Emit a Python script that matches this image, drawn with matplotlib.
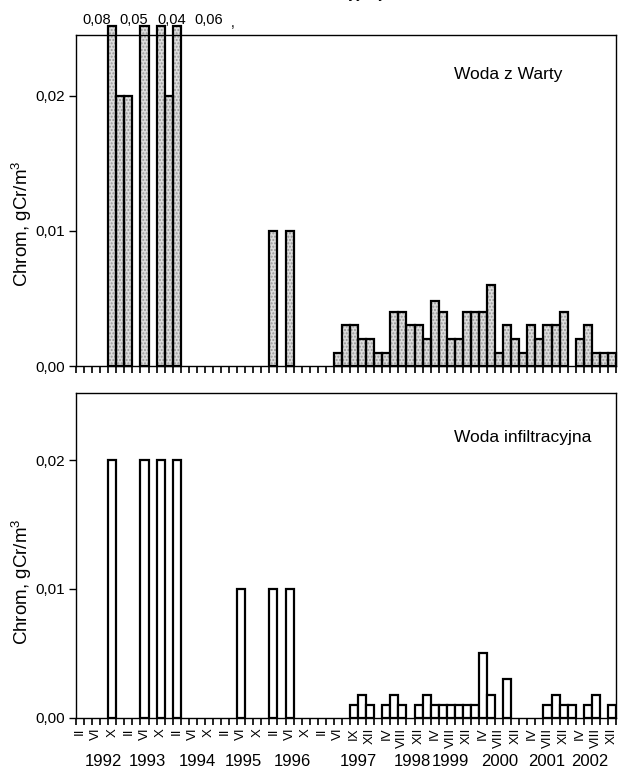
import matplotlib
matplotlib.use('Agg')
import matplotlib.pyplot as plt
import numpy as np

plt.rcParams['font.family'] = ['Liberation Sans', 'DejaVu Sans']
plt.rcParams['mathtext.default'] = 'regular'

# Chromium, gCr/m3, one value per sampling slot (1992-1996: 6 slots/yr, 1997: 7, 1998-2002: 6)
warta_1992 = [0, 0, 0, 0, 0.08, 0.02]
warta_1993 = [0.02, 0, 0.05, 0, 0.04, 0.02]
warta_1994 = [0.06, 0, 0, 0, 0, 0]
warta_1995 = [0, 0, 0, 0, 0, 0]
warta_1996 = [0.01, 0, 0.01, 0, 0, 0]
warta_1997 = [0, 0, 0.001, 0.003, 0.003, 0.002, 0.002]
warta_1998 = [0.001, 0.001, 0.004, 0.004, 0.003, 0.003]
warta_1999 = [0.002, 0.0048, 0.004, 0.002, 0.002, 0.004]
warta_2000 = [0.004, 0.004, 0.006, 0.001, 0.003, 0.002]
warta_2001 = [0.001, 0.003, 0.002, 0.003, 0.003, 0.004]
warta_2002 = [0, 0.002, 0.003, 0.001, 0.001, 0.001]

infil_1992 = [0, 0, 0, 0, 0.02, 0]
infil_1993 = [0, 0, 0.02, 0, 0.02, 0]
infil_1994 = [0.02, 0, 0, 0, 0, 0]
infil_1995 = [0, 0, 0.01, 0, 0, 0]
infil_1996 = [0.01, 0, 0.01, 0, 0, 0]
infil_1997 = [0, 0, 0, 0, 0.001, 0.0018, 0.001]
infil_1998 = [0, 0.001, 0.0018, 0.001, 0, 0.001]
infil_1999 = [0.0018, 0.001, 0.001, 0.001, 0.001, 0.001]
infil_2000 = [0.001, 0.005, 0.0018, 0, 0.003, 0]
infil_2001 = [0, 0, 0, 0.001, 0.0018, 0.001]
infil_2002 = [0.001, 0, 0.001, 0.0018, 0, 0.001]

years = ['1992', '1993', '1994', '1995', '1996', '1997', '1998', '1999', '2000', '2001', '2002']
year_pos = [2.85, 8.4, 14.6, 20.3, 26.4, 34.5, 41.2, 45.9, 52.1, 57.9, 63.3]

month_pos = [0, 2, 4, 6, 8, 10, 12, 14, 16, 18, 20, 22, 24, 26, 28,
             30, 32, 34, 36,
             38, 40, 42, 44, 46, 48, 50, 52, 54, 56, 58, 60, 62, 64, 66]
month_lab = ['II', 'VI', 'X'] * 5 + ['II', 'VI', 'IX', 'XII'] + ['IV', 'VIII', 'XII'] * 5

# labels written above the clipped bars
over_pos = [2.1, 6.7, 11.4, 16.0]
over_vals = [0.08, 0.05, 0.04, 0.06]

warta = np.array(warta_1992 + warta_1993 + warta_1994 + warta_1995 + warta_1996 + warta_1997
                 + warta_1998 + warta_1999 + warta_2000 + warta_2001 + warta_2002)
infil = np.array(infil_1992 + infil_1993 + infil_1994 + infil_1995 + infil_1996 + infil_1997
                 + infil_1998 + infil_1999 + infil_2000 + infil_2001 + infil_2002)
x = np.arange(len(warta))

fig = plt.figure(figsize=(6.25, 7.74), dpi=100)
ax1 = fig.add_axes([0.1216, 0.5271, 0.864, 0.4277])
ax2 = fig.add_axes([0.1216, 0.0724, 0.864, 0.4199])

def comma(v, pos=None):
    return f'{v:.2f}'.replace('.', ',')

# top panel: stippled grey bars, tall ones poke out of the frame
top_max = 0.0245
m = warta > 0
shown = np.minimum(warta, 0.0252)
ax1.bar(x[m], shown[m], width=1, color='#dcdcdc', edgecolor='#999999', hatch='.....',
        linewidth=0, clip_on=False, zorder=2)
ax1.bar(x[m], shown[m], width=1, fill=False, edgecolor='black', linewidth=1.6,
        clip_on=False, zorder=3)
ax1.set_ylim(0, top_max)
for p, v in zip(over_pos, over_vals):
    ax1.text(p, 1.045, comma(v), transform=ax1.get_xaxis_transform(), ha='center',
             va='center', fontsize=10.5)
ax1.text(18.9, 1.035, ',', transform=ax1.get_xaxis_transform(), ha='center', va='center',
         fontsize=10)
ax1.text(0.70, 0.88, 'Woda z Warty', transform=ax1.transAxes, fontsize=12.5, va='center')

# bottom panel: open bars
m2 = infil > 0
ax2.bar(x[m2], infil[m2], width=1, facecolor='white', edgecolor='black', linewidth=1.6, zorder=3)
ax2.set_ylim(0, 0.0252)
ax2.text(0.70, 0.862, 'Woda infiltracyjna', transform=ax2.transAxes, fontsize=12.5, va='center')

for ax, ly in ((ax1, 0.43), (ax2, 0.42)):
    ax.set_xlim(-0.5, len(x) - 0.5)
    ax.set_yticks([0, 0.01, 0.02])
    ax.yaxis.set_major_formatter(plt.FuncFormatter(comma))
    ax.tick_params(axis='y', direction='out', length=5, width=1, labelsize=11, pad=3)
    ax.set_xticks(np.arange(-0.5, len(x), 1), minor=True)
    ax.tick_params(axis='x', which='minor', direction='out', length=5, width=1.2)
    ax.set_ylabel('Chrom, gCr/m$^3$', fontsize=13.5)
    ax.yaxis.set_label_coords(-0.078, ly)
    for s in ax.spines.values():
        s.set_linewidth(1.0)

ax1.set_xticks([])
ax1.set_xticks(np.arange(-0.5, len(x), 1), minor=True)
ax2.set_xticks(month_pos)
ax2.set_xticklabels(month_lab, rotation=90, fontsize=9.5)
ax2.tick_params(axis='x', which='major', length=0, pad=7)
for p, yr in zip(year_pos, years):
    ax2.text(p, -0.135, yr, transform=ax2.get_xaxis_transform(), ha='center', va='center',
             fontsize=12)

# title, cut off at the top edge of the page
fig.text(0.128, 1.003, 'Zawartość chromu w wodzie infiltracyjnej 1992 - 2002', ha='left',
         va='baseline', fontsize=12)

fig.savefig('out.png', dpi=100)
